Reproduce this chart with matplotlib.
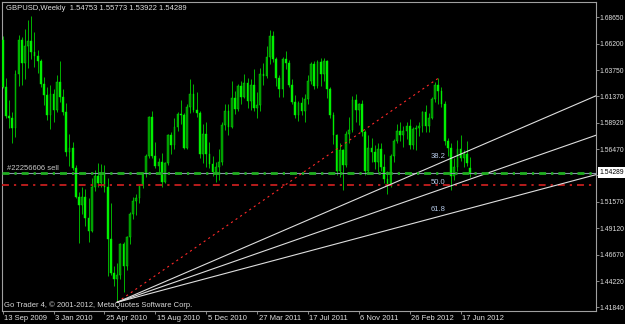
import numpy as np
import matplotlib
matplotlib.use("Agg")
import matplotlib.pyplot as plt
import matplotlib.transforms as mtransforms

# GBPUSD weekly bars (first bar = week of 13 Sep 2009)
opens = [
    1.6660, 1.6225, 1.5950, 1.5930, 1.5840, 1.6340, 1.6660, 1.6440, 1.6600, 1.6650,
    1.6540, 1.6510, 1.6460, 1.6250, 1.6150, 1.5960, 1.6160, 1.6010, 1.6270, 1.6130,
    1.5990, 1.5620, 1.5660, 1.5470, 1.5200, 1.5130, 1.5200, 1.5010, 1.4890, 1.5300,
    1.5400, 1.5330, 1.5420, 1.5300, 1.4810, 1.4500, 1.4440, 1.4480, 1.4770, 1.4560,
    1.4830, 1.5050, 1.5170, 1.5190, 1.5310, 1.5420, 1.5580, 1.5940, 1.5580, 1.5490,
    1.5530, 1.5340, 1.5520, 1.5780, 1.5680, 1.5850, 1.5970, 1.5960, 1.5660, 1.6040,
    1.6160, 1.6010, 1.5980, 1.5600, 1.5790, 1.5600, 1.5510, 1.5430, 1.5480, 1.5530,
    1.5870, 1.6000, 1.5850, 1.6120, 1.6020, 1.6230, 1.6130, 1.6260, 1.6090, 1.6240,
    1.6030, 1.6050, 1.6340, 1.6320, 1.6500, 1.6690, 1.6480, 1.6300, 1.6200, 1.6480,
    1.6440, 1.6240, 1.6080, 1.5960, 1.6070, 1.6000, 1.6110, 1.6280, 1.6430, 1.6230,
    1.6450, 1.6340, 1.6460, 1.6200, 1.5960, 1.5780, 1.5440, 1.5640, 1.5500, 1.5790,
    1.5820, 1.6100, 1.6010, 1.6060, 1.5800, 1.5440, 1.5660, 1.5620, 1.5530, 1.5650,
    1.5480, 1.5370, 1.5320, 1.5580, 1.5720, 1.5810, 1.5780, 1.5810, 1.5860, 1.5680,
    1.5830, 1.5840, 1.5860, 1.5990, 1.5860, 1.5930, 1.6110, 1.6240, 1.6180, 1.6060,
    1.5720, 1.5660, 1.5400, 1.5480, 1.5650, 1.5560, 1.5600, 1.54753,
]
highs = [
    1.6695, 1.6300, 1.6100, 1.5990, 1.6380, 1.6700, 1.6680, 1.6760, 1.6840, 1.6877,
    1.6730, 1.6560, 1.6480, 1.6310, 1.6220, 1.6240, 1.6200, 1.6330, 1.6460, 1.6200,
    1.6070, 1.5790, 1.5710, 1.5500, 1.5250, 1.5300, 1.5280, 1.5190, 1.5380, 1.5450,
    1.5520, 1.5510, 1.5500, 1.5380, 1.5150, 1.4560, 1.4590, 1.4780, 1.4790, 1.4840,
    1.5060, 1.5200, 1.5230, 1.5320, 1.5430, 1.5600, 1.5950, 1.6000, 1.5710, 1.5560,
    1.5610, 1.5530, 1.5790, 1.5800, 1.5930, 1.5990, 1.6100, 1.5980, 1.6060, 1.6298,
    1.6250, 1.6170, 1.6000, 1.5880, 1.5900, 1.5710, 1.5580, 1.5530, 1.5650, 1.5900,
    1.6060, 1.6060, 1.6280, 1.6180, 1.6250, 1.6280, 1.6340, 1.6300, 1.6290, 1.6390,
    1.6170, 1.6400, 1.6440, 1.6600, 1.6745, 1.6735, 1.6500, 1.6330, 1.6500, 1.6550,
    1.6470, 1.6290, 1.6150, 1.6090, 1.6130, 1.6160, 1.6330, 1.6450, 1.6460, 1.6470,
    1.6490, 1.6490, 1.6470, 1.6220, 1.5990, 1.5790, 1.5700, 1.5650, 1.5810, 1.5940,
    1.6140, 1.6160, 1.6070, 1.6100, 1.5820, 1.5780, 1.5750, 1.5680, 1.5700, 1.5700,
    1.5600, 1.5440, 1.5600, 1.5740, 1.5880, 1.5900, 1.5860, 1.5900, 1.5920, 1.5850,
    1.5870, 1.5900, 1.6000, 1.6050, 1.5980, 1.6130, 1.6270, 1.6302, 1.6220, 1.6090,
    1.5750, 1.5700, 1.5560, 1.5730, 1.5780, 1.5640, 1.5720, 1.55773,
]
lows = [
    1.6210, 1.5930, 1.5840, 1.5707, 1.5760, 1.6230, 1.6240, 1.6290, 1.6400, 1.6480,
    1.6410, 1.6350, 1.6220, 1.6050, 1.5915, 1.5830, 1.5900, 1.5990, 1.6080, 1.5960,
    1.5580, 1.5490, 1.5450, 1.5190, 1.4781, 1.5050, 1.4930, 1.4790, 1.4880, 1.5260,
    1.5300, 1.5300, 1.5250, 1.4470, 1.4480, 1.4380, 1.4229, 1.4440, 1.4320, 1.4530,
    1.4770, 1.5000, 1.5040, 1.5150, 1.5290, 1.5390, 1.5560, 1.5560, 1.5470, 1.5420,
    1.5300, 1.5330, 1.5500, 1.5600, 1.5650, 1.5810, 1.5880, 1.5650, 1.5650, 1.5980,
    1.5990, 1.5940, 1.5560, 1.5520, 1.5480, 1.5470, 1.5400, 1.5340, 1.5360, 1.5500,
    1.5820, 1.5780, 1.5840, 1.5970, 1.6000, 1.6060, 1.6120, 1.6030, 1.6010, 1.6000,
    1.5930, 1.6000, 1.6240, 1.6300, 1.6430, 1.6450, 1.6230, 1.6130, 1.6130, 1.6390,
    1.6220, 1.6060, 1.5930, 1.5910, 1.5960, 1.5900, 1.6060, 1.6250, 1.6200, 1.6210,
    1.6230, 1.6280, 1.6120, 1.5930, 1.5690, 1.5410, 1.5390, 1.5272, 1.5480, 1.5700,
    1.5800, 1.5900, 1.5870, 1.5770, 1.5410, 1.5420, 1.5530, 1.5460, 1.5430, 1.5440,
    1.5330, 1.5234, 1.5300, 1.5530, 1.5700, 1.5720, 1.5670, 1.5740, 1.5650, 1.5650,
    1.5640, 1.5770, 1.5800, 1.5800, 1.5800, 1.5920, 1.6080, 1.6060, 1.6040, 1.5680,
    1.5580, 1.5268, 1.5360, 1.5440, 1.5540, 1.5480, 1.5490, 1.53922,
]
closes = [
    1.6225, 1.5950, 1.5930, 1.5840, 1.6340, 1.6660, 1.6440, 1.6600, 1.6650, 1.6540,
    1.6510, 1.6460, 1.6250, 1.6150, 1.5960, 1.6160, 1.6010, 1.6270, 1.6130, 1.5990,
    1.5620, 1.5660, 1.5470, 1.5200, 1.5130, 1.5200, 1.5010, 1.4890, 1.5300, 1.5400,
    1.5330, 1.5420, 1.5300, 1.4810, 1.4500, 1.4440, 1.4480, 1.4770, 1.4560, 1.4830,
    1.5050, 1.5170, 1.5190, 1.5310, 1.5420, 1.5580, 1.5940, 1.5580, 1.5490, 1.5530,
    1.5340, 1.5520, 1.5780, 1.5680, 1.5850, 1.5970, 1.5960, 1.5660, 1.6040, 1.6160,
    1.6010, 1.5980, 1.5600, 1.5790, 1.5600, 1.5510, 1.5430, 1.5480, 1.5530, 1.5870,
    1.6000, 1.5850, 1.6120, 1.6020, 1.6230, 1.6130, 1.6260, 1.6090, 1.6240, 1.6030,
    1.6050, 1.6340, 1.6320, 1.6500, 1.6690, 1.6480, 1.6300, 1.6200, 1.6480, 1.6440,
    1.6240, 1.6080, 1.5960, 1.6070, 1.6000, 1.6110, 1.6280, 1.6430, 1.6230, 1.6450,
    1.6340, 1.6460, 1.6200, 1.5960, 1.5780, 1.5440, 1.5640, 1.5500, 1.5790, 1.5820,
    1.6100, 1.6010, 1.6060, 1.5800, 1.5440, 1.5660, 1.5620, 1.5530, 1.5650, 1.5480,
    1.5370, 1.5320, 1.5580, 1.5720, 1.5810, 1.5780, 1.5810, 1.5860, 1.5680, 1.5830,
    1.5840, 1.5860, 1.5990, 1.5860, 1.5930, 1.6110, 1.6240, 1.6180, 1.6060, 1.5720,
    1.5660, 1.5400, 1.5480, 1.5650, 1.5560, 1.5600, 1.5520, 1.54289,
]

title_text = "GBPUSD,Weekly  1.54753 1.55773 1.53922 1.54289"
copyright_text = "Go Trader 4, \u00a9 2001-2012, MetaQuotes Software Corp."
date_labels = ["13 Sep 2009", "3 Jan 2010", "25 Apr 2010", "15 Aug 2010", "5 Dec 2010",
               "27 Mar 2011", "17 Jul 2011", "6 Nov 2011", "26 Feb 2012", "17 Jun 2012"]
date_step = 16  # one label every 16 weekly bars
price_ticks = [1.68650, 1.66200, 1.63750, 1.61370, 1.58920, 1.56470, 1.54020,
               1.51570, 1.49120, 1.46670, 1.44220, 1.41840]

# objects on the chart
fan_bars = [36, 137]          # low bar and high bar of the fibo fan
fan_levels = [38.2, 50.0, 61.8]
order_label = "#22256606 sell"
order_price = 1.5425
red_line_price = 1.5315
bid_price = 1.54289

plt.rcParams["font.family"] = ["Liberation Sans", "DejaVu Sans"]
plt.rcParams["lines.scale_dashes"] = False

W, H = 625, 324
fig = plt.figure(figsize=(W / 100, H / 100), dpi=100, facecolor="black")
ax = fig.add_axes([2 / W, 13.3 / H, 593.7 / W, 308.7 / H], facecolor="black")
ax.set_xlim(-0.22, 186.5)
ax.set_ylim(1.4151, 1.7007)

o = np.array(opens)
hi = np.array(highs)
lo = np.array(lows)
c = np.array(closes)
x = np.arange(len(o))
up = c >= o

# candles
ax.vlines(x, lo, hi, color="#00d000", lw=0.6, zorder=2)
body_bot = np.minimum(o, c)
body_h = np.maximum(np.abs(c - o), 0.0004)
ax.bar(x[up], body_h[up], bottom=body_bot[up], width=0.55, color="#009000",
       edgecolor="#00e600", lw=0.3, zorder=3)
ax.bar(x[~up], body_h[~up], bottom=body_bot[~up], width=0.55, color="#00f000",
       edgecolor="#00f000", lw=0.3, zorder=3)

# horizontal lines: bid, order, red level
dash = (5, 3.6, 1.6, 3.6)
ax.axhline(red_line_price, color="#b81c1c", lw=1.4, dashes=dash, zorder=4)
ax.axhline(bid_price, color="#8899aa", lw=0.8, zorder=4)
ax.axhline(order_price, color="#1fae1f", lw=2.0, dashes=dash, zorder=5)

trans = mtransforms.blended_transform_factory(ax.transAxes, ax.transData)
ax.annotate(order_label, xy=(0, order_price), xycoords=trans, xytext=(5, 1),
            textcoords="offset pixels", ha="left", va="bottom",
            color="#c8c8c8", fontsize=5.5, zorder=6)

# fibonacci fan
x0, x1 = fan_bars
p0 = lows[x0]
p1 = highs[x1]
x_end = ax.get_xlim()[1]
ax.plot([x0, x1], [p0, p1], color="#ff2a2a", lw=0.8, ls=(0, (1.5, 2.5)), zorder=4)
for lev in fan_levels:
    pl = p1 - lev / 100 * (p1 - p0)
    slope = (pl - p0) / (x1 - x0)
    ax.plot([x0, x_end], [p0, p0 + slope * (x_end - x0)], color="#dedede", lw=0.8, zorder=4)
    ax.annotate(f"{lev:.1f}", xy=(x1, pl), xytext=(0, 4), textcoords="offset pixels",
                ha="center", va="bottom", color="#b4c8e6", fontsize=5.5, zorder=6)

# axes look
for s in ax.spines.values():
    s.set_color("#a0a0a0")
    s.set_linewidth(0.8)
ax.yaxis.tick_right()
ax.set_yticks(price_ticks, labels=[f"{p:.5f}" for p in price_ticks])
ax.set_xticks(np.arange(len(date_labels)) * date_step, labels=date_labels, ha="left")
ax.tick_params(axis="both", colors="#a0a0a0", labelcolor="#e0e0e0", labelsize=5.5,
               length=2.2, width=0.6, direction="out")
ax.tick_params(axis="y", pad=0.8, labelsize=4.9)
ax.tick_params(axis="x", pad=0.8)
offset = mtransforms.ScaledTranslation(1.5 / 100, 0, fig.dpi_scale_trans)
for lbl in ax.get_xticklabels():
    lbl.set_transform(lbl.get_transform() + offset)

# current price box on the price scale
ax.annotate(f"{bid_price:.5f}", xy=(1, bid_price), xycoords=trans, xytext=(4, 0),
            textcoords="offset pixels", ha="left", va="center", color="black",
            fontsize=4.9, annotation_clip=False, zorder=10,
            bbox=dict(boxstyle="square,pad=0.3", fc="white", ec="none"))

fig.text(6 / W, 1 - 8 / H, title_text, color="#e0e0e0", fontsize=5.5, va="center")
fig.text(4 / W, 1 - 305 / H, copyright_text, color="#d8d8d8", fontsize=5.5, va="center")

fig.savefig("out.png", dpi=100, facecolor="black")
